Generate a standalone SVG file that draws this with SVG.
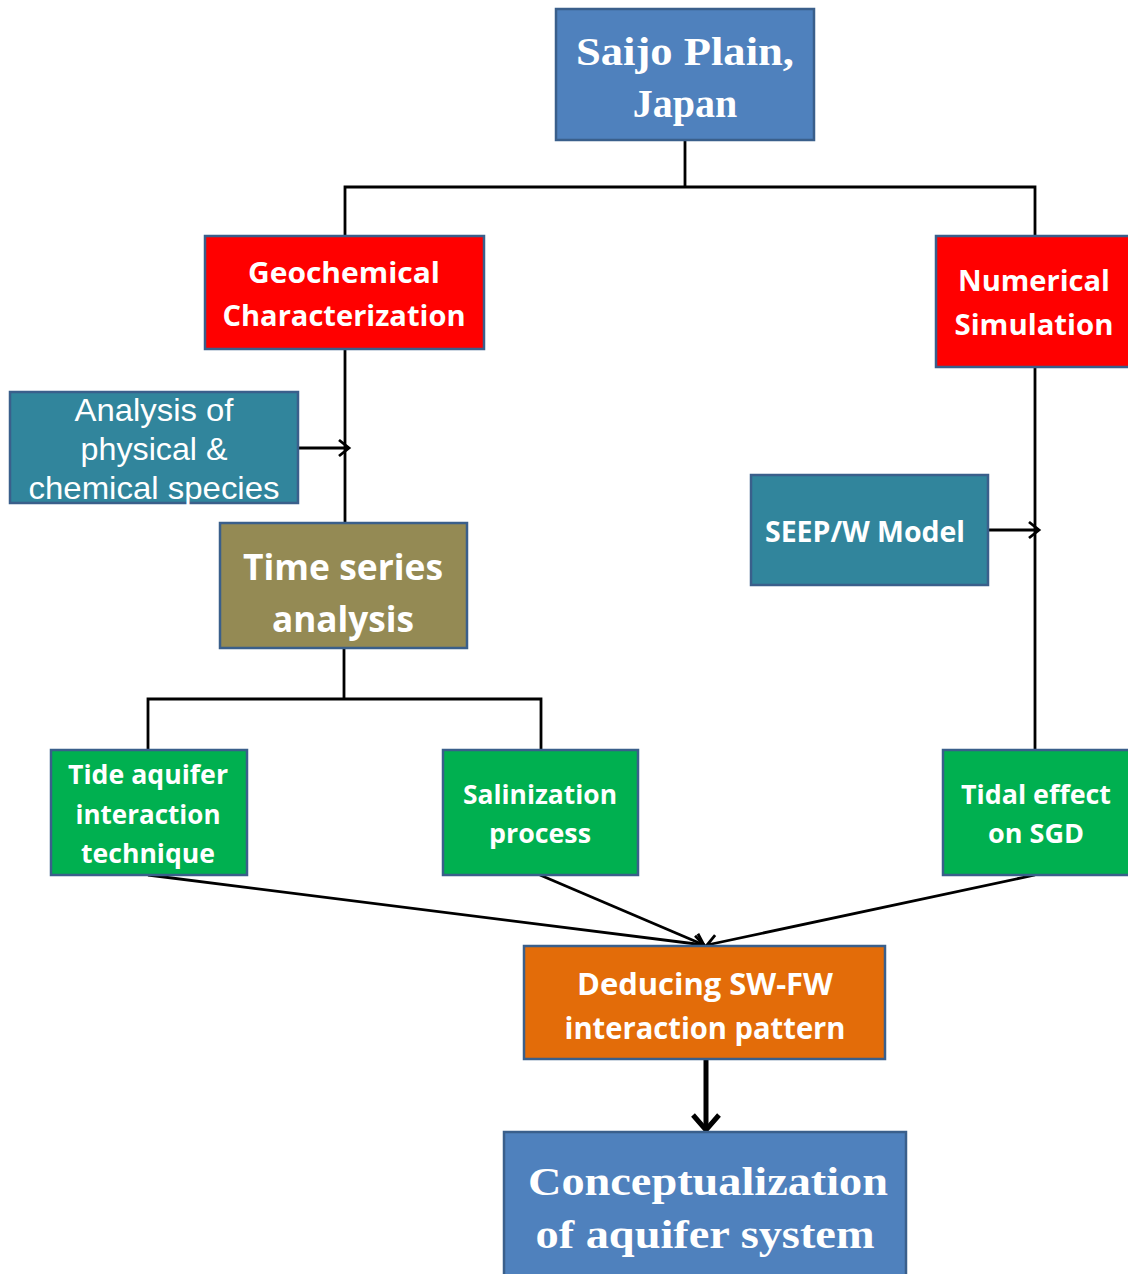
<svg xmlns="http://www.w3.org/2000/svg" width="1128" height="1274" viewBox="0 0 1128 1274">
<defs>
<style>
.box{stroke:#3a5f8b;stroke-width:2.5}
.blue{fill:#4f81bd}
.red{fill:#ff0000}
.teal{fill:#31859c}
.olive{fill:#948a54}
.green{fill:#00b050}
.orange{fill:#e36c09}
.c{font-family:"Open Sans","Noto Sans",sans-serif;font-weight:bold;fill:#fff;text-anchor:middle}
.s{font-family:"Liberation Serif","DejaVu Serif",serif;font-weight:bold;fill:#fff;text-anchor:middle}
.a{font-family:"Liberation Sans",Arial,sans-serif;fill:#fff;text-anchor:middle}
.ln{stroke:#000;stroke-width:2.8;fill:none}
</style>
<marker id="arr" markerUnits="userSpaceOnUse" markerWidth="24" markerHeight="24" viewBox="0 0 24 24" refX="21" refY="12" orient="auto">
<path d="M11,4 L21,12 L11,20" fill="none" stroke="#000" stroke-width="2.8"/>
</marker>
<marker id="arrB" markerUnits="userSpaceOnUse" markerWidth="30" markerHeight="30" viewBox="0 0 30 30" refX="27" refY="15" orient="auto">
<path d="M12,2 L27,15 L12,28" fill="none" stroke="#000" stroke-width="5"/>
</marker>
</defs>
<rect width="1128" height="1274" fill="#fff"/>
<g id="connectors">
<path class="ln" d="M685,140 V187 M345,236 V187 H1035 V236"/>
<path class="ln" d="M345,349 V523"/>
<path class="ln" d="M298,448 H349" marker-end="url(#arr)"/>
<path class="ln" d="M344,648 V699 M148,750 V699 H541 V750"/>
<path class="ln" d="M1035,367 V750"/>
<path class="ln" d="M988,530 H1039" marker-end="url(#arr)"/>
<path class="ln" d="M148,875 L704,945" marker-end="url(#arr)"/>
<path class="ln" d="M540,875 L704,945" marker-end="url(#arr)"/>
<path class="ln" d="M1035,875 L707,945" marker-end="url(#arr)"/>
<path d="M706,1060 V1130" stroke="#000" stroke-width="5" fill="none" marker-end="url(#arrB)"/>
</g>
<g id="saijo">
<rect class="box blue" x="556" y="9" width="258" height="131"/>
<text class="s" x="685" y="65" font-size="40" textLength="218" lengthAdjust="spacingAndGlyphs">Saijo Plain,</text>
<text class="s" x="685" y="117" font-size="40">Japan</text>
</g>
<g id="geochemical">
<rect class="box red" x="205" y="236" width="279" height="113"/>
<text class="c" x="344" y="283" font-size="29" textLength="192" lengthAdjust="spacingAndGlyphs">Geochemical</text>
<text class="c" x="344" y="326" font-size="29" textLength="243" lengthAdjust="spacingAndGlyphs">Characterization</text>
</g>
<g id="numerical">
<rect class="box red" x="936" y="236" width="200" height="131"/>
<text class="c" x="1034" y="291" font-size="29" textLength="152" lengthAdjust="spacingAndGlyphs">Numerical</text>
<text class="c" x="1034" y="335" font-size="29" textLength="159" lengthAdjust="spacingAndGlyphs">Simulation</text>
</g>
<g id="analysis">
<rect class="box teal" x="10" y="392" width="288" height="111"/>
<text class="a" x="154" y="421" font-size="32" textLength="159" lengthAdjust="spacingAndGlyphs">Analysis of</text>
<text class="a" x="154" y="460" font-size="32" textLength="147" lengthAdjust="spacingAndGlyphs">physical &amp;</text>
<text class="a" x="154" y="499" font-size="32" textLength="251" lengthAdjust="spacingAndGlyphs">chemical species</text>
</g>
<g id="timeseries">
<rect class="box olive" x="220" y="523" width="247" height="125"/>
<text class="c" x="343" y="580" font-size="35" textLength="200" lengthAdjust="spacingAndGlyphs">Time series</text>
<text class="c" x="343" y="632" font-size="35" textLength="142" lengthAdjust="spacingAndGlyphs">analysis</text>
</g>
<g id="seepw">
<rect class="box teal" x="751" y="475" width="237" height="110"/>
<text class="c" x="865" y="542" font-size="29" textLength="200" lengthAdjust="spacingAndGlyphs">SEEP/W Model</text>
</g>
<g id="tide">
<rect class="box green" x="51" y="750" width="196" height="125"/>
<text class="c" x="148" y="784" font-size="27" textLength="160" lengthAdjust="spacingAndGlyphs">Tide aquifer</text>
<text class="c" x="148" y="824" font-size="27" textLength="145" lengthAdjust="spacingAndGlyphs">interaction</text>
<text class="c" x="148" y="863" font-size="27" textLength="134" lengthAdjust="spacingAndGlyphs">technique</text>
</g>
<g id="salinization">
<rect class="box green" x="443" y="750" width="195" height="125"/>
<text class="c" x="540" y="804" font-size="27" textLength="154" lengthAdjust="spacingAndGlyphs">Salinization</text>
<text class="c" x="540" y="843" font-size="27" textLength="102" lengthAdjust="spacingAndGlyphs">process</text>
</g>
<g id="tidal">
<rect class="box green" x="943" y="750" width="193" height="125"/>
<text class="c" x="1036" y="804" font-size="27" textLength="150" lengthAdjust="spacingAndGlyphs">Tidal effect</text>
<text class="c" x="1036" y="843" font-size="27" textLength="96" lengthAdjust="spacingAndGlyphs">on SGD</text>
</g>
<g id="deducing">
<rect class="box orange" x="524" y="946" width="361" height="113"/>
<text class="c" x="705" y="995" font-size="30" textLength="256" lengthAdjust="spacingAndGlyphs">Deducing SW-FW</text>
<text class="c" x="705" y="1039" font-size="30" textLength="281" lengthAdjust="spacingAndGlyphs">interaction pattern</text>
</g>
<g id="conceptualization">
<rect class="box blue" x="504" y="1132" width="402" height="150"/>
<text class="s" x="708" y="1195" font-size="40" textLength="360" lengthAdjust="spacingAndGlyphs">Conceptualization</text>
<text class="s" x="705" y="1248" font-size="40" textLength="339" lengthAdjust="spacingAndGlyphs">of aquifer system</text>
</g>
</svg>
